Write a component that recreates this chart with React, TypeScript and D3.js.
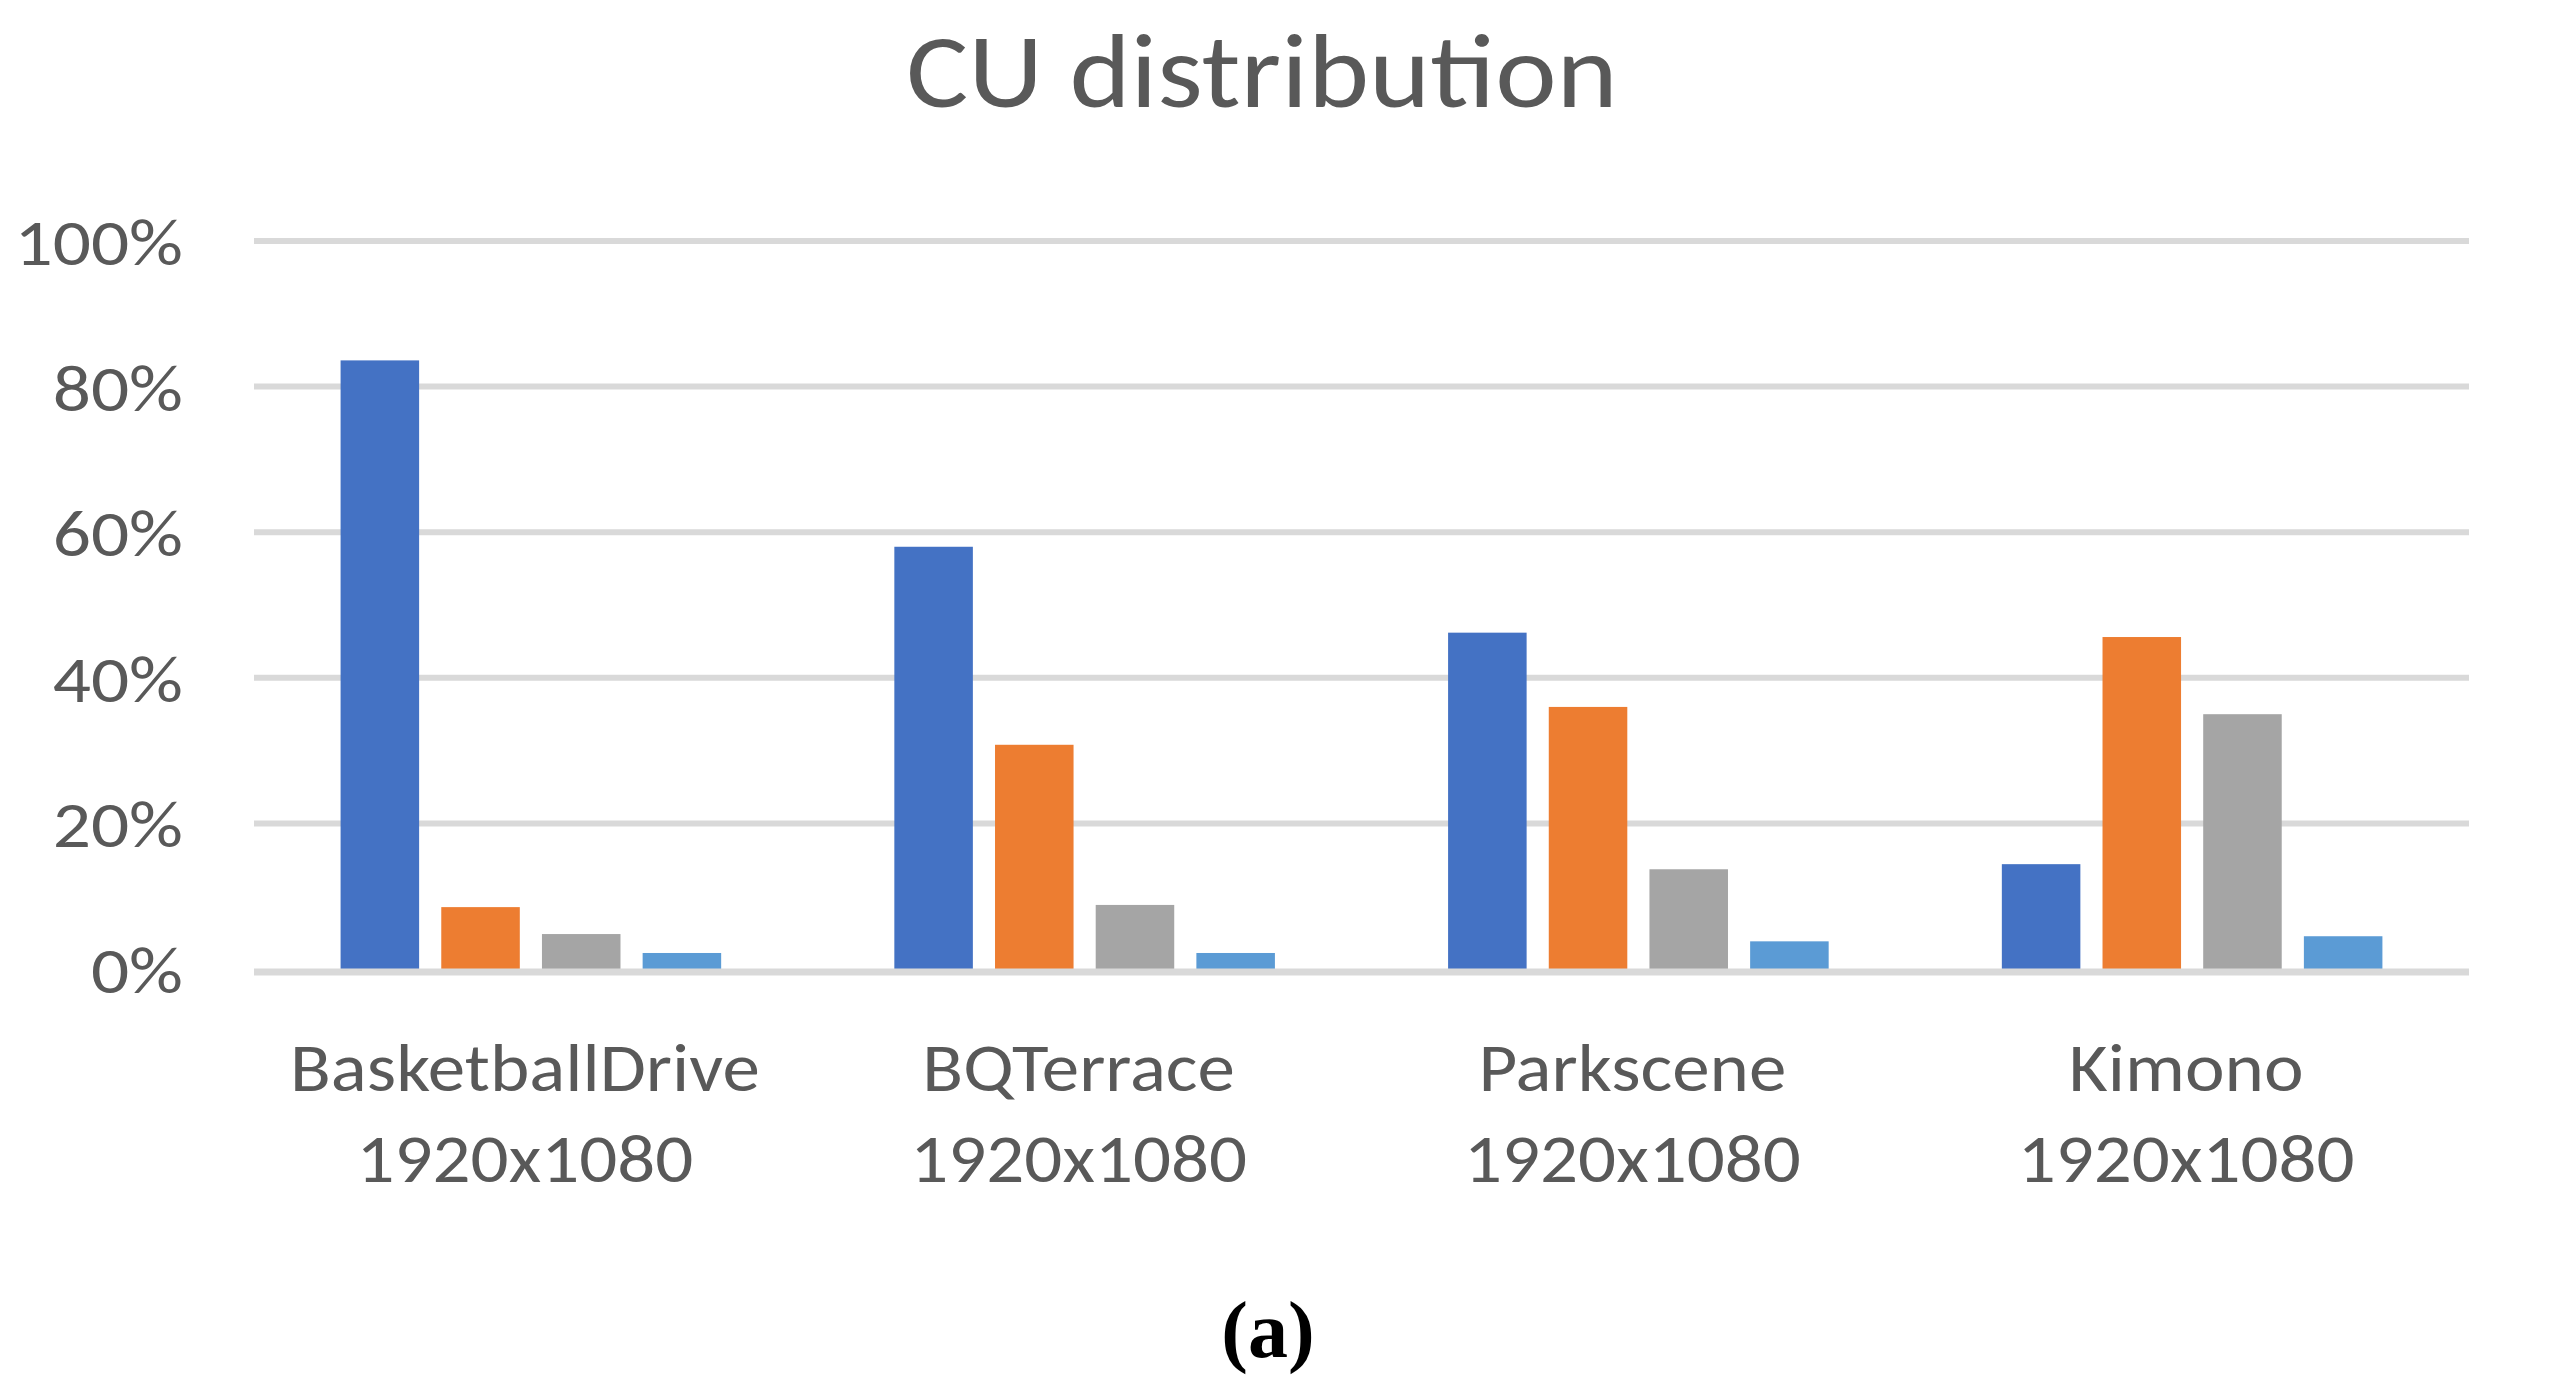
import * as d3 from 'd3'

const categories = ['BasketballDrive', 'BQTerrace', 'Parkscene', 'Kimono']
const resolutions = ['1920x1080', '1920x1080', '1920x1080', '1920x1080']
const seriesNames = ['64x64', '32x32', '16x16', '8x8']
const seriesColors = ['#4472C4', '#ED7D31', '#A5A5A5', '#5B9BD5']

// share of CUs per size, one array per sequence
const basketballDrive = [0.836, 0.085, 0.048, 0.022]
const bqTerrace = [0.58, 0.308, 0.088, 0.022]
const parkscene = [0.462, 0.36, 0.137, 0.038]
const kimono = [0.144, 0.456, 0.35, 0.045]
const values = [basketballDrive, bqTerrace, parkscene, kimono]

const yTicks = [0, 0.2, 0.4, 0.6, 0.8, 1]

const FONT = 'Calibri, Carlito, Lato, "Open Sans", sans-serif'
const INK = '#595959'
const GRID = '#d9d9d9'
// Lato is narrower than the original face, widen the glyphs a little
const STRETCH = 1.12

function Label({
  x,
  y,
  size,
  anchor,
  stretch = STRETCH,
  children,
}: {
  x: number
  y: number
  size: number
  anchor: 'start' | 'middle' | 'end'
  stretch?: number
  children: string
}) {
  return (
    <text
      transform={`translate(${x},${y}) scale(${stretch},1)`}
      textAnchor={anchor}
      fontFamily={FONT}
      fontSize={size}
      fill={INK}
    >
      {children}
    </text>
  )
}

export default function App() {
  const width = 2550
  const height = 1393
  const plot = { left: 254, right: 2469, top: 241, bottom: 969 }

  const x0 = d3.scaleBand<string>().domain(categories).range([plot.left, plot.right]).padding(0)
  const x1 = d3
    .scaleBand<string>()
    .domain(seriesNames)
    .range([0, x0.bandwidth()])
    .paddingInner(0.22)
    .paddingOuter(0.86)
  const y = d3.scaleLinear().domain([0, 1]).range([plot.bottom, plot.top])
  const pct = d3.format('.0%')

  return (
    <div style={{ position: 'absolute', left: 0, top: 0, background: '#fff' }}>
      <svg width={width} height={height} viewBox={`0 0 ${width} ${height}`} style={{ display: 'block' }}>
        <rect width={width} height={height} fill="#fff" />

        <Label x={1262} y={107} size={104} anchor="middle">
          CU distribution
        </Label>

        {yTicks.map((tick) => (
          <g key={tick}>
            {tick > 0 && (
              <line x1={plot.left} x2={plot.right} y1={y(tick)} y2={y(tick)} stroke={GRID} strokeWidth="6" />
            )}
            <Label x={183} y={y(tick) + 24} size={65} anchor="end" stretch={1.16}>
              {pct(tick)}
            </Label>
          </g>
        ))}

        {categories.map((category, ci) => {
          const bandX = x0(category) ?? 0
          const mid = bandX + x0.bandwidth() / 2
          return (
            <g key={category}>
              {seriesNames.map((name, si) => {
                const v = values[ci][si]
                return (
                  <rect
                    key={name}
                    x={bandX + (x1(name) ?? 0)}
                    y={y(v)}
                    width={x1.bandwidth()}
                    height={y(0) - y(v)}
                    fill={seriesColors[si]}
                  />
                )
              })}
              <Label x={mid - 6} y={1091} size={67} anchor="middle">
                {category}
              </Label>
              <Label x={mid - 6} y={1182} size={67} anchor="middle">
                {resolutions[ci]}
              </Label>
            </g>
          )
        })}

        <line x1={plot.left} x2={plot.right} y1={y(0) + 3} y2={y(0) + 3} stroke={GRID} strokeWidth="7" />

        <text
          x={1268}
          y={1357}
          textAnchor="middle"
          fontFamily='"Liberation Serif", "Times New Roman", serif'
          fontWeight="bold"
          fontSize="80"
          fill="#000"
        >
          (a)
        </text>
      </svg>
    </div>
  )
}
